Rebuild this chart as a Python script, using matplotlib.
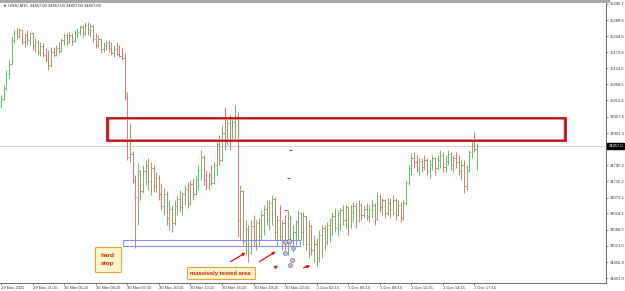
import matplotlib
matplotlib.use("Agg")
import matplotlib.pyplot as plt
from matplotlib.patches import Rectangle
from matplotlib.transforms import blended_transform_factory

# US30 M15 bars (one bar every 15 minutes)
opens = [
    34995, 35020, 35055, 35105, 35140, 35220, 35245, 35235, 35255, 35215,
    35240, 35220, 35245, 35200, 35215, 35180, 35200, 35170, 35155, 35135,
    35180, 35170, 35195, 35185, 35220, 35238, 35215, 35240, 35218, 35245,
    35250, 35265, 35245, 35275, 35255, 35270, 35225, 35205, 35225, 35190,
    35205, 35212, 35195, 35178, 35190, 35175, 35165, 35160, 35025, 34820,
    34830, 34740, 34680, 34770, 34700, 34770, 34790, 34735, 34780, 34720,
    34745, 34690, 34650, 34690, 34610, 34640, 34590, 34650, 34675, 34645,
    34690, 34710, 34660, 34725, 34690, 34740, 34775, 34820, 34740, 34715,
    34755, 34730, 34790, 34865, 34810, 34900, 34870, 34935, 34880, 34940,
    34960, 34600, 34700, 34530, 34570, 34490, 34580, 34530, 34590, 34545,
    34620, 34640, 34600, 34660, 34675, 34560, 34600, 34545, 34590, 34525,
    34610, 34530, 34560, 34595, 34625, 34560, 34615, 34520, 34580, 34500,
    34520, 34470, 34550, 34575, 34525, 34585, 34600, 34615, 34575, 34625,
    34635, 34600, 34645, 34580, 34630, 34650, 34600, 34655, 34620, 34640,
    34615, 34635, 34655, 34605, 34685, 34645, 34670, 34625, 34660, 34640,
    34670, 34620, 34655, 34610, 34660, 34730, 34780, 34815, 34800, 34775,
    34805, 34785, 34810, 34770, 34795, 34815, 34780, 34810, 34825, 34785,
    34805, 34830, 34790, 34815, 34800, 34770, 34790, 34720, 34775, 34835,
    34860, 34845,
]
highs = [
    35032, 35066, 35118, 35152, 35232, 35256, 35263, 35262, 35256, 35245,
    35255, 35250, 35250, 35228, 35221, 35214, 35212, 35193, 35187, 35197,
    35197, 35204, 35214, 35228, 35245, 35245, 35249, 35245, 35256, 35263,
    35273, 35273, 35283, 35284, 35280, 35272, 35245, 35238, 35228, 35214,
    35221, 35221, 35214, 35204, 35214, 35204, 35197, 35176, 35042, 34935,
    34840, 34756, 34797, 34773, 34790, 34808, 34815, 34801, 34790, 34766,
    34756, 34729, 34711, 34700, 34670, 34653, 34670, 34687, 34704, 34697,
    34722, 34732, 34739, 34746, 34756, 34790, 34842, 34825, 34773, 34766,
    34790, 34801, 34877, 34894, 34928, 34990, 34952, 34962, 34952, 34997,
    34973, 34722, 34704, 34601, 34584, 34601, 34618, 34601, 34608, 34636,
    34653, 34670, 34670, 34687, 34680, 34618, 34653, 34601, 34618, 34636,
    34618, 34584, 34601, 34636, 34630, 34628, 34618, 34601, 34584, 34550,
    34539, 34566, 34584, 34584, 34594, 34608, 34628, 34642, 34636, 34642,
    34653, 34653, 34650, 34653, 34663, 34660, 34670, 34659, 34653, 34659,
    34653, 34670, 34660, 34697, 34690, 34677, 34675, 34677, 34677, 34687,
    34677, 34670, 34663, 34670, 34739, 34790, 34832, 34835, 34825, 34815,
    34815, 34825, 34815, 34808, 34825, 34820, 34825, 34842, 34835, 34825,
    34842, 34835, 34825, 34835, 34825, 34808, 34808, 34790, 34842, 34877,
    34904, 34866,
]
lows = [
    34987, 35015, 35049, 35090, 35140, 35210, 35225, 35228, 35204, 35197,
    35205, 35205, 35187, 35180, 35170, 35168, 35163, 35145, 35118, 35130,
    35163, 35168, 35176, 35180, 35204, 35204, 35210, 35204, 35214, 35228,
    35238, 35232, 35240, 35238, 35232, 35214, 35194, 35197, 35176, 35180,
    35187, 35180, 35170, 35163, 35170, 35163, 35152, 35015, 34808, 34801,
    34729, 34505, 34584, 34669, 34695, 34722, 34704, 34687, 34697, 34697,
    34669, 34636, 34618, 34584, 34566, 34560, 34584, 34618, 34628, 34618,
    34653, 34642, 34655, 34669, 34687, 34704, 34739, 34722, 34704, 34704,
    34722, 34725, 34756, 34790, 34805, 34842, 34860, 34842, 34875, 34877,
    34543, 34532, 34515, 34481, 34456, 34485, 34515, 34498, 34515, 34532,
    34550, 34584, 34566, 34584, 34532, 34515, 34532, 34498, 34498, 34481,
    34515, 34491, 34515, 34532, 34532, 34515, 34498, 34470, 34481, 34456,
    34443, 34456, 34470, 34498, 34515, 34525, 34550, 34560, 34550, 34566,
    34584, 34574, 34550, 34574, 34594, 34574, 34594, 34601, 34608, 34601,
    34594, 34608, 34584, 34600, 34628, 34618, 34608, 34620, 34608, 34618,
    34601, 34615, 34594, 34601, 34653, 34722, 34756, 34780, 34766, 34756,
    34766, 34773, 34756, 34746, 34773, 34756, 34773, 34780, 34766, 34766,
    34790, 34773, 34766, 34780, 34756, 34739, 34694, 34704, 34766, 34815,
    34835, 34773,
]
closes = [
    35020, 35055, 35105, 35140, 35220, 35245, 35235, 35255, 35215, 35240,
    35220, 35245, 35200, 35215, 35180, 35200, 35170, 35155, 35135, 35180,
    35170, 35195, 35185, 35220, 35238, 35215, 35240, 35218, 35245, 35250,
    35265, 35245, 35275, 35255, 35270, 35225, 35205, 35225, 35190, 35205,
    35212, 35195, 35178, 35190, 35175, 35165, 35160, 35025, 34820, 34830,
    34740, 34680, 34770, 34700, 34770, 34790, 34735, 34780, 34720, 34745,
    34690, 34650, 34690, 34610, 34640, 34590, 34650, 34675, 34645, 34690,
    34710, 34660, 34725, 34690, 34740, 34775, 34820, 34740, 34715, 34755,
    34730, 34790, 34865, 34810, 34900, 34870, 34935, 34880, 34940, 34960,
    34600, 34700, 34530, 34570, 34490, 34580, 34530, 34590, 34545, 34620,
    34640, 34600, 34660, 34675, 34560, 34600, 34545, 34590, 34525, 34610,
    34530, 34560, 34595, 34625, 34560, 34615, 34520, 34580, 34500, 34520,
    34470, 34550, 34575, 34525, 34585, 34600, 34615, 34575, 34625, 34635,
    34600, 34645, 34580, 34630, 34650, 34600, 34655, 34620, 34640, 34615,
    34635, 34655, 34605, 34685, 34645, 34670, 34625, 34660, 34640, 34670,
    34620, 34655, 34610, 34660, 34730, 34780, 34815, 34800, 34775, 34805,
    34785, 34810, 34770, 34795, 34815, 34780, 34810, 34825, 34785, 34805,
    34830, 34790, 34815, 34800, 34770, 34790, 34720, 34775, 34835, 34860,
    34845, 34857,
]

price_ticks = [35345.7, 35289.6, 35234.6, 35179.6, 35123.5, 35068.5, 35013.4,
               34957.4, 34901.3, 34846.3, 34790.2, 34735.2, 34679.1, 34624.1,
               34568.0, 34513.0, 34456.9, 34401.9]
time_labels = ["29 Nov 2021", "29 Nov 21:15", "30 Nov 01:15", "30 Nov 04:15",
               "30 Nov 07:15", "30 Nov 10:15", "30 Nov 13:15", "30 Nov 16:15",
               "30 Nov 19:15", "30 Nov 22:15", "1 Dec 02:15", "1 Dec 05:15",
               "1 Dec 08:15", "1 Dec 11:15", "1 Dec 14:15", "1 Dec 17:15"]
bars_per_label = 12
last_price = 34857.0

# zones drawn on the chart (bar index / price)
resistance_zone = (40.3, 214.4, 34877, 34953)
support_zone = (46.4, 113.7, 34512, 34532)

UP = "#62bd62"
DOWN = "#e87070"
FONT = ["Liberation Sans", "DejaVu Sans"]

fig = plt.figure(figsize=(6.25, 2.91), dpi=100)
ax = fig.add_axes([0.0, 8 / 291, 606 / 625, 280 / 291])

# OHLC bars
for i, (o, h, l, c) in enumerate(zip(opens, highs, lows, closes)):
    col = UP if c >= o else DOWN
    ax.vlines(i, l, h, color=col, lw=0.7)
    ax.hlines(o, i - 0.45, i, color=col, lw=0.7)
    ax.hlines(c, i, i + 0.45, color=col, lw=0.7)

ax.set_xlim(-0.38, 230)
ax.set_ylim(34384.7, 35349.1)

# current price line
ax.axhline(last_price, color="#cdcdcd", lw=0.6, zorder=0)

# resistance box (double red border)
x0, x1, y0, y1 = resistance_zone
ax.add_patch(Rectangle((x0, y0), x1 - x0, y1 - y0, fill=False,
                       edgecolor="#c01515", lw=2.0, zorder=5))
ax.add_patch(Rectangle((x0 + 0.9, y0 + 4), x1 - x0 - 1.8, y1 - y0 - 8,
                       fill=False, edgecolor="#f3b0b0", lw=0.5, zorder=5))

# support box
x0, x1, y0, y1 = support_zone
ax.add_patch(Rectangle((x0, y0), x1 - x0, y1 - y0, fill=False,
                       edgecolor="#8a8af0", lw=0.8, zorder=5))

# labels
ax.text(38.0, 34488, "hard\nstop", color="#d02000", fontsize=4.6, weight="bold",
        family=FONT, ha="left", va="top", linespacing=1.7, zorder=7,
        bbox=dict(boxstyle="square,pad=0.9", fc="#fff6cc", ec="#f0a040", lw=0.8))
ax.text(72, 34418, "massively tested area", color="#d02000", fontsize=4.2,
        weight="bold", family=FONT, ha="left", va="center", zorder=7,
        bbox=dict(boxstyle="square,pad=0.6", fc="#fff6cc", ec="#f0a040", lw=0.8))

arrows = [((86.3, 34453), (93.9, 34494)), ((97.3, 34453), (105.3, 34498)),
          ((103.3, 34434), (106.3, 34449)), ((114.0, 34434), (118.6, 34448))]
for tail, head in arrows:
    ax.annotate("", xy=head, xytext=tail, zorder=7,
                arrowprops=dict(arrowstyle="-|>", color="#dd1111", lw=0.9,
                                mutation_scale=4))

# small test markers near the support
ax.scatter([108, 109.5, 111, 108, 110.5, 109.8],
           [34526, 34529, 34506, 34488, 34464, 34447],
           s=9, facecolor="#c8b8d8", edgecolor="#8a78a8", lw=0.5, zorder=6)
ax.hlines([34842, 34746, 34636], [109.3, 108.8, 107.6], [110.6, 110.0, 108.8],
          color="#555577", lw=0.7)

# axes styling
for side in ("top", "left"):
    ax.spines[side].set_visible(False)
ax.spines["right"].set_color("#555555")
ax.spines["bottom"].set_color("#555555")
ax.spines["right"].set_linewidth(0.6)
ax.spines["bottom"].set_linewidth(0.6)

ax.yaxis.tick_right()
ax.set_yticks(price_ticks)
ax.set_yticklabels([f"{p:.1f}" for p in price_ticks], family=FONT)
ax.set_xticks([k * bars_per_label for k in range(len(time_labels))])
ax.set_xticklabels(time_labels, family=FONT)
plt.setp(ax.get_xticklabels(), ha="left")
ax.tick_params(axis="both", labelsize=3, length=1.5, width=0.5, pad=1,
               color="#555555", labelcolor="#333333")

tr = blended_transform_factory(ax.transAxes, ax.transData)
ax.text(1.004, last_price, "34857.0", transform=tr, fontsize=3, color="white",
        family=FONT, ha="left", va="center", zorder=8,
        bbox=dict(boxstyle="square,pad=0.25", fc="black", ec="black"))

# window header strip and symbol line
fig.patches.append(Rectangle((0, 288 / 291), 610 / 625, 3 / 291,
                             transform=fig.transFigure, fc="#a8a8a8", ec="none"))
fig.text(3 / 625, 1 - 6 / 291, "▼ US30,M15  34857.00 34857.00 34857.00 34857.00",
         fontsize=3, color="#222222", va="center", ha="left", family=FONT)

fig.savefig("out.png", dpi=100)
